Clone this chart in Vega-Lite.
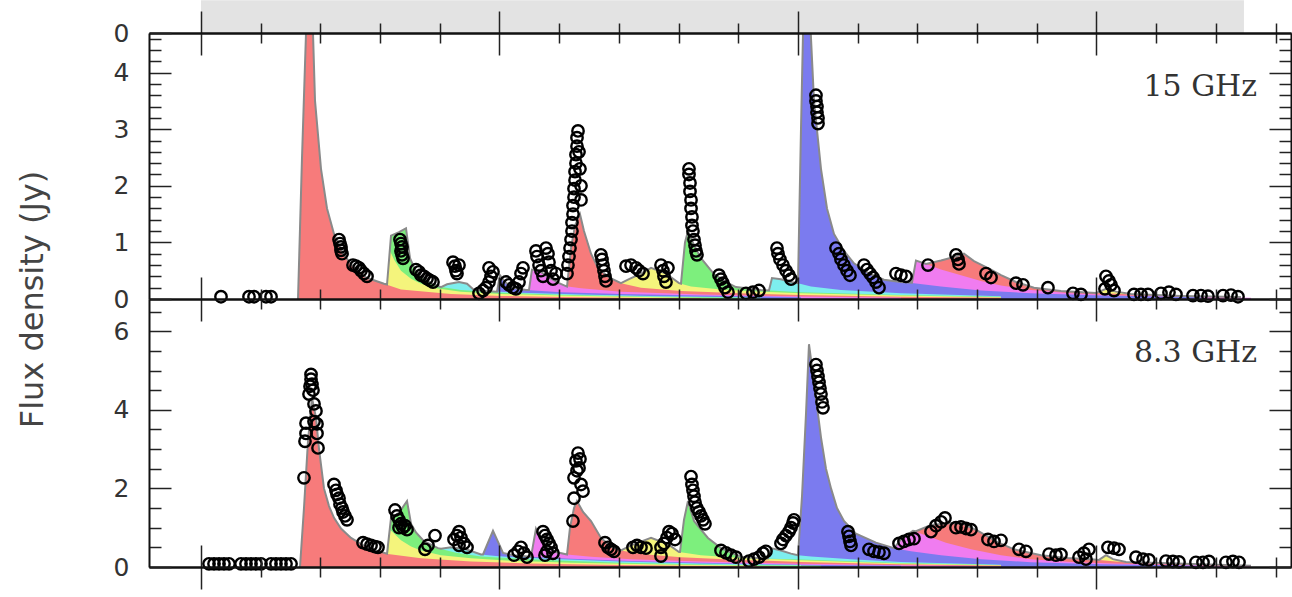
{
"$schema": "https://vega.github.io/schema/vega-lite/v6.json",
"padding": {"left": 15, "top": 0, "right": 0, "bottom": 0},
"bounds": "flush",
"spacing": 0,
"config": {"view": {"stroke": null}},
"resolve": {"scale": {"x": "independent", "y": "independent", "color": "independent"}},
"datasets": {
"grey": [{"x1": 1980.0, "x2": 1997.47, "y1": 4.7, "y2": 5.28}],
"lab_top": [{"t": 1997.69, "v": 3.59, "label": "15 GHz"}],
"lab_bot": [{"t": 1997.69, "v": 5.22, "label": "8.3 GHz"}],
"top_comp": [
{"c":"p14","t":1994.991,"v":0.105},{"c":"p14","t":1995.159,"v":0.18},{"c":"p14","t":1995.326,"v":0.13},{"c":"p14","t":1995.578,"v":0.09},{"c":"p14","t":1996.415,"v":0.055},{"c":"p14","t":1997.42,"v":0.035},
{"c":"p13","t":1992.144,"v":0.62},{"c":"p13","t":1992.395,"v":0.68},{"c":"p13","t":1992.646,"v":0.75},{"c":"p13","t":1992.78,"v":0.8},{"c":"p13","t":1992.948,"v":0.67},{"c":"p13","t":1993.233,"v":0.52},{"c":"p13","t":1993.4,"v":0.42},{"c":"p13","t":1993.651,"v":0.3},{"c":"p13","t":1993.953,"v":0.2},{"c":"p13","t":1994.405,"v":0.14},{"c":"p13","t":1995.075,"v":0.1},{"c":"p13","t":1995.913,"v":0.07},{"c":"p13","t":1996.75,"v":0.04},{"c":"p13","t":1997.42,"v":0.03},
{"c":"p12","t":1991.909,"v":0.29},{"c":"p12","t":1991.976,"v":0.68},{"c":"p12","t":1992.144,"v":0.62},{"c":"p12","t":1992.395,"v":0.52},{"c":"p12","t":1992.73,"v":0.42},{"c":"p12","t":1993.065,"v":0.32},{"c":"p12","t":1993.4,"v":0.24},{"c":"p12","t":1993.903,"v":0.16},{"c":"p12","t":1994.573,"v":0.1},{"c":"p12","t":1995.41,"v":0.06},{"c":"p12","t":1996.75,"v":0.035},{"c":"p12","t":1997.588,"v":0.02},
{"c":"p11","t":1990.0,"v":0.28},{"c":"p11","t":1990.05,"v":3.0},{"c":"p11","t":1990.1,"v":5.5},{"c":"p11","t":1990.151,"v":6.5},{"c":"p11","t":1990.218,"v":4.6},{"c":"p11","t":1990.268,"v":3.5},{"c":"p11","t":1990.385,"v":2.3},{"c":"p11","t":1990.486,"v":1.6},{"c":"p11","t":1990.603,"v":1.15},{"c":"p11","t":1990.77,"v":0.85},{"c":"p11","t":1990.938,"v":0.63},{"c":"p11","t":1991.189,"v":0.45},{"c":"p11","t":1991.44,"v":0.34},{"c":"p11","t":1991.725,"v":0.3},{"c":"p11","t":1991.943,"v":0.28},{"c":"p11","t":1992.395,"v":0.22},{"c":"p11","t":1993.065,"v":0.15},{"c":"p11","t":1993.903,"v":0.1},{"c":"p11","t":1995.075,"v":0.06},{"c":"p11","t":1996.75,"v":0.03},
{"c":"p10","t":1989.514,"v":0.15},{"c":"p10","t":1989.564,"v":0.37},{"c":"p10","t":1989.715,"v":0.35},{"c":"p10","t":1989.883,"v":0.3},{"c":"p10","t":1990.0,"v":0.28},{"c":"p10","t":1990.218,"v":0.22},{"c":"p10","t":1990.72,"v":0.16},{"c":"p10","t":1991.725,"v":0.1},{"c":"p10","t":1993.4,"v":0.05},
{"c":"p09","t":1988.04,"v":0.27},{"c":"p09","t":1988.107,"v":1.0},{"c":"p09","t":1988.157,"v":1.2},{"c":"p09","t":1988.258,"v":0.95},{"c":"p09","t":1988.375,"v":0.72},{"c":"p09","t":1988.593,"v":0.44},{"c":"p09","t":1988.794,"v":0.3},{"c":"p09","t":1988.961,"v":0.21},{"c":"p09","t":1989.38,"v":0.16},{"c":"p09","t":1990.05,"v":0.12},{"c":"p09","t":1991.725,"v":0.07},{"c":"p09","t":1993.4,"v":0.04},
{"c":"p08","t":1987.035,"v":0.28},{"c":"p08","t":1987.169,"v":0.35},{"c":"p08","t":1987.37,"v":0.45},{"c":"p08","t":1987.538,"v":0.55},{"c":"p08","t":1987.789,"v":0.45},{"c":"p08","t":1988.007,"v":0.28},{"c":"p08","t":1988.208,"v":0.22},{"c":"p08","t":1988.71,"v":0.17},{"c":"p08","t":1989.38,"v":0.13},{"c":"p08","t":1990.05,"v":0.1},{"c":"p08","t":1991.725,"v":0.06},{"c":"p08","t":1993.4,"v":0.03},
{"c":"p07","t":1986.131,"v":0.22},{"c":"p07","t":1986.198,"v":0.9},{"c":"p07","t":1986.265,"v":1.3},{"c":"p07","t":1986.348,"v":1.5},{"c":"p07","t":1986.415,"v":1.2},{"c":"p07","t":1986.533,"v":0.8},{"c":"p07","t":1986.65,"v":0.55},{"c":"p07","t":1986.834,"v":0.38},{"c":"p07","t":1987.035,"v":0.28},{"c":"p07","t":1987.37,"v":0.2},{"c":"p07","t":1988.04,"v":0.14},{"c":"p07","t":1989.045,"v":0.1},{"c":"p07","t":1990.05,"v":0.07},{"c":"p07","t":1991.725,"v":0.04},{"c":"p07","t":1993.4,"v":0.02},
{"c":"p06","t":1985.494,"v":0.16},{"c":"p06","t":1985.544,"v":0.52},{"c":"p06","t":1985.662,"v":0.5},{"c":"p06","t":1985.829,"v":0.38},{"c":"p06","t":1985.997,"v":0.28},{"c":"p06","t":1986.147,"v":0.22},{"c":"p06","t":1986.365,"v":0.19},{"c":"p06","t":1987.035,"v":0.13},{"c":"p06","t":1988.375,"v":0.08},{"c":"p06","t":1990.05,"v":0.045},{"c":"p06","t":1991.725,"v":0.02},
{"c":"p05","t":1984.958,"v":0.13},{"c":"p05","t":1985.008,"v":0.42},{"c":"p05","t":1985.092,"v":0.3},{"c":"p05","t":1985.226,"v":0.2},{"c":"p05","t":1985.444,"v":0.16},{"c":"p05","t":1986.03,"v":0.12},{"c":"p05","t":1987.035,"v":0.09},{"c":"p05","t":1988.375,"v":0.06},{"c":"p05","t":1990.05,"v":0.032},
{"c":"p04","t":1984.02,"v":0.21},{"c":"p04","t":1984.121,"v":0.26},{"c":"p04","t":1984.322,"v":0.3},{"c":"p04","t":1984.456,"v":0.27},{"c":"p04","t":1984.573,"v":0.16},{"c":"p04","t":1984.774,"v":0.14},{"c":"p04","t":1985.36,"v":0.11},{"c":"p04","t":1986.365,"v":0.08},{"c":"p04","t":1987.705,"v":0.05},{"c":"p04","t":1989.38,"v":0.025},
{"c":"p03","t":1983.116,"v":0.255},{"c":"p03","t":1983.183,"v":1.12},{"c":"p03","t":1983.317,"v":1.18},{"c":"p03","t":1983.434,"v":1.25},{"c":"p03","t":1983.501,"v":0.72},{"c":"p03","t":1983.585,"v":0.52},{"c":"p03","t":1983.685,"v":0.4},{"c":"p03","t":1983.853,"v":0.28},{"c":"p03","t":1984.02,"v":0.21},{"c":"p03","t":1984.355,"v":0.16},{"c":"p03","t":1985.025,"v":0.11},{"c":"p03","t":1986.03,"v":0.075},{"c":"p03","t":1987.37,"v":0.045},{"c":"p03","t":1989.045,"v":0.02},
{"c":"p02","t":1983.116,"v":0.255},{"c":"p02","t":1983.166,"v":0.85},{"c":"p02","t":1983.233,"v":0.7},{"c":"p02","t":1983.35,"v":0.5},{"c":"p02","t":1983.518,"v":0.36},{"c":"p02","t":1983.685,"v":0.27},{"c":"p02","t":1983.936,"v":0.19},{"c":"p02","t":1984.355,"v":0.13},{"c":"p02","t":1985.025,"v":0.09},{"c":"p02","t":1986.03,"v":0.06},{"c":"p02","t":1987.37,"v":0.035},{"c":"p02","t":1988.71,"v":0.015},
{"c":"p01","t":1981.625,"v":0},{"c":"p01","t":1981.692,"v":2.5},{"c":"p01","t":1981.759,"v":4.7},{"c":"p01","t":1981.809,"v":6.5},{"c":"p01","t":1981.876,"v":4.7},{"c":"p01","t":1981.91,"v":3.5},{"c":"p01","t":1982.01,"v":2.3},{"c":"p01","t":1982.111,"v":1.6},{"c":"p01","t":1982.228,"v":1.15},{"c":"p01","t":1982.379,"v":0.8},{"c":"p01","t":1982.563,"v":0.55},{"c":"p01","t":1982.764,"v":0.38},{"c":"p01","t":1983.065,"v":0.27},{"c":"p01","t":1983.35,"v":0.17},{"c":"p01","t":1984.188,"v":0.09},{"c":"p01","t":1985.025,"v":0.055},{"c":"p01","t":1986.03,"v":0.035},{"c":"p01","t":1987.035,"v":0.02},{"c":"p01","t":1988.375,"v":0.01}
],
"top_total": [
{"t":1981.625,"v":0},{"t":1981.692,"v":2.5},{"t":1981.759,"v":4.7},{"t":1981.809,"v":6.5},{"t":1981.876,"v":4.7},{"t":1981.91,"v":3.5},{"t":1982.01,"v":2.3},{"t":1982.111,"v":1.6},{"t":1982.228,"v":1.15},{"t":1982.379,"v":0.8},{"t":1982.563,"v":0.55},{"t":1982.764,"v":0.38},{"t":1983.065,"v":0.27},{"t":1983.116,"v":0.255},{"t":1983.183,"v":1.12},{"t":1983.317,"v":1.18},{"t":1983.434,"v":1.25},{"t":1983.501,"v":0.72},{"t":1983.585,"v":0.52},{"t":1983.685,"v":0.4},{"t":1983.853,"v":0.28},{"t":1984.02,"v":0.21},{"t":1984.121,"v":0.26},{"t":1984.322,"v":0.3},{"t":1984.456,"v":0.27},{"t":1984.573,"v":0.16},{"t":1984.774,"v":0.14},{"t":1984.958,"v":0.13},{"t":1985.008,"v":0.42},{"t":1985.092,"v":0.3},{"t":1985.226,"v":0.2},{"t":1985.444,"v":0.16},{"t":1985.494,"v":0.16},{"t":1985.544,"v":0.52},{"t":1985.662,"v":0.5},{"t":1985.829,"v":0.38},{"t":1985.997,"v":0.28},{"t":1986.131,"v":0.22},{"t":1986.198,"v":0.9},{"t":1986.265,"v":1.3},{"t":1986.348,"v":1.5},{"t":1986.415,"v":1.2},{"t":1986.533,"v":0.8},{"t":1986.65,"v":0.55},{"t":1986.834,"v":0.38},{"t":1987.035,"v":0.28},{"t":1987.169,"v":0.35},{"t":1987.37,"v":0.45},{"t":1987.538,"v":0.55},{"t":1987.789,"v":0.45},{"t":1988.007,"v":0.28},{"t":1988.04,"v":0.27},{"t":1988.107,"v":1.0},{"t":1988.157,"v":1.2},{"t":1988.258,"v":0.95},{"t":1988.375,"v":0.72},{"t":1988.593,"v":0.44},{"t":1988.794,"v":0.3},{"t":1988.961,"v":0.21},{"t":1989.38,"v":0.16},{"t":1989.514,"v":0.15},{"t":1989.564,"v":0.37},{"t":1989.715,"v":0.35},{"t":1989.883,"v":0.3},{"t":1990.0,"v":0.28},{"t":1990.05,"v":3.0},{"t":1990.1,"v":5.5},{"t":1990.151,"v":6.5},{"t":1990.218,"v":4.6},{"t":1990.268,"v":3.5},{"t":1990.385,"v":2.3},{"t":1990.486,"v":1.6},{"t":1990.603,"v":1.15},{"t":1990.77,"v":0.85},{"t":1990.938,"v":0.63},{"t":1991.189,"v":0.45},{"t":1991.44,"v":0.34},{"t":1991.725,"v":0.3},{"t":1991.909,"v":0.29},{"t":1991.976,"v":0.68},{"t":1992.144,"v":0.62},{"t":1992.395,"v":0.68},{"t":1992.646,"v":0.75},{"t":1992.78,"v":0.8},{"t":1992.948,"v":0.67},{"t":1993.233,"v":0.52},{"t":1993.4,"v":0.42},{"t":1993.651,"v":0.3},{"t":1993.953,"v":0.2},{"t":1994.405,"v":0.14},{"t":1994.991,"v":0.105},{"t":1995.159,"v":0.18},{"t":1995.326,"v":0.13},{"t":1995.578,"v":0.09},{"t":1996.415,"v":0.055},{"t":1997.42,"v":0.035}
],
"top_pts": [
{"t":1980.335,"v":0.04},{"t":1980.804,"v":0.04},{"t":1980.888,"v":0.04},{"t":1981.089,"v":0.04},{"t":1981.173,"v":0.04},
{"t":1982.312,"v":1.05},{"t":1982.328,"v":0.98},{"t":1982.345,"v":0.92},{"t":1982.345,"v":0.86},{"t":1982.362,"v":0.8},
{"t":1982.546,"v":0.6},{"t":1982.596,"v":0.58},{"t":1982.647,"v":0.55},{"t":1982.68,"v":0.5},{"t":1982.73,"v":0.45},{"t":1982.781,"v":0.4},
{"t":1983.333,"v":1.05},{"t":1983.35,"v":0.98},{"t":1983.367,"v":0.92},{"t":1983.35,"v":0.85},{"t":1983.367,"v":0.78},{"t":1983.384,"v":0.72},
{"t":1983.601,"v":0.52},{"t":1983.652,"v":0.48},{"t":1983.685,"v":0.42},{"t":1983.735,"v":0.4},{"t":1983.786,"v":0.36},{"t":1983.836,"v":0.33},{"t":1983.886,"v":0.3},
{"t":1984.221,"v":0.65},{"t":1984.255,"v":0.58},{"t":1984.271,"v":0.5},{"t":1984.288,"v":0.45},{"t":1984.322,"v":0.6},
{"t":1984.657,"v":0.1},{"t":1984.724,"v":0.15},{"t":1984.774,"v":0.2},{"t":1984.824,"v":0.3},{"t":1984.858,"v":0.4},{"t":1984.891,"v":0.48},{"t":1984.824,"v":0.55},
{"t":1985.109,"v":0.3},{"t":1985.159,"v":0.25},{"t":1985.226,"v":0.2},{"t":1985.276,"v":0.18},{"t":1985.327,"v":0.3},{"t":1985.36,"v":0.45},{"t":1985.394,"v":0.55},
{"t":1985.611,"v":0.85},{"t":1985.628,"v":0.75},{"t":1985.662,"v":0.6},{"t":1985.695,"v":0.5},{"t":1985.729,"v":0.4},{"t":1985.779,"v":0.9},{"t":1985.812,"v":0.8},{"t":1985.829,"v":0.65},{"t":1985.863,"v":0.5},{"t":1985.896,"v":0.35},{"t":1985.946,"v":0.45},
{"t":1986.131,"v":0.45},{"t":1986.147,"v":0.6},{"t":1986.164,"v":0.75},{"t":1986.181,"v":0.9},{"t":1986.198,"v":1.05},{"t":1986.214,"v":1.2},{"t":1986.214,"v":1.35},{"t":1986.231,"v":1.5},{"t":1986.231,"v":1.65},{"t":1986.248,"v":1.8},{"t":1986.248,"v":1.95},{"t":1986.265,"v":2.1},{"t":1986.265,"v":2.25},{"t":1986.281,"v":2.4},{"t":1986.281,"v":2.55},{"t":1986.298,"v":2.7},{"t":1986.298,"v":2.85},{"t":1986.315,"v":2.97},{"t":1986.332,"v":2.6},{"t":1986.348,"v":2.3},{"t":1986.365,"v":2.0},{"t":1986.365,"v":1.75},
{"t":1986.7,"v":0.78},{"t":1986.717,"v":0.7},{"t":1986.734,"v":0.6},{"t":1986.75,"v":0.5},{"t":1986.767,"v":0.4},{"t":1986.784,"v":0.32},
{"t":1987.119,"v":0.58},{"t":1987.203,"v":0.6},{"t":1987.286,"v":0.55},{"t":1987.337,"v":0.5},{"t":1987.404,"v":0.45},
{"t":1987.705,"v":0.6},{"t":1987.739,"v":0.5},{"t":1987.755,"v":0.4},{"t":1987.789,"v":0.3},{"t":1987.822,"v":0.55},
{"t":1988.174,"v":2.3},{"t":1988.174,"v":2.2},{"t":1988.191,"v":2.05},{"t":1988.191,"v":1.9},{"t":1988.208,"v":1.75},{"t":1988.208,"v":1.6},{"t":1988.224,"v":1.45},{"t":1988.224,"v":1.3},{"t":1988.241,"v":1.2},{"t":1988.258,"v":1.05},{"t":1988.275,"v":0.95},{"t":1988.291,"v":0.85},{"t":1988.308,"v":0.78},
{"t":1988.677,"v":0.42},{"t":1988.71,"v":0.35},{"t":1988.744,"v":0.28},{"t":1988.777,"v":0.2},{"t":1988.827,"v":0.12},
{"t":1989.129,"v":0.1},{"t":1989.246,"v":0.12},{"t":1989.347,"v":0.15},
{"t":1989.648,"v":0.9},{"t":1989.665,"v":0.8},{"t":1989.698,"v":0.7},{"t":1989.749,"v":0.6},{"t":1989.799,"v":0.5},{"t":1989.849,"v":0.42},{"t":1989.883,"v":0.35},
{"t":1990.301,"v":3.6},{"t":1990.301,"v":3.5},{"t":1990.318,"v":3.4},{"t":1990.318,"v":3.3},{"t":1990.335,"v":3.2},{"t":1990.335,"v":3.1},
{"t":1990.636,"v":0.9},{"t":1990.687,"v":0.8},{"t":1990.72,"v":0.7},{"t":1990.77,"v":0.6},{"t":1990.821,"v":0.5},{"t":1990.871,"v":0.42},
{"t":1991.105,"v":0.6},{"t":1991.156,"v":0.52},{"t":1991.206,"v":0.45},{"t":1991.256,"v":0.38},{"t":1991.306,"v":0.3},{"t":1991.357,"v":0.2},
{"t":1991.641,"v":0.45},{"t":1991.725,"v":0.42},{"t":1991.809,"v":0.4},
{"t":1992.177,"v":0.6},
{"t":1992.646,"v":0.78},{"t":1992.68,"v":0.7},{"t":1992.697,"v":0.62},
{"t":1993.149,"v":0.45},{"t":1993.233,"v":0.38},
{"t":1993.651,"v":0.28},{"t":1993.769,"v":0.25},
{"t":1994.187,"v":0.2},
{"t":1994.606,"v":0.1},{"t":1994.74,"v":0.08},
{"t":1995.159,"v":0.4},{"t":1995.209,"v":0.32},{"t":1995.243,"v":0.25},{"t":1995.142,"v":0.18},{"t":1995.293,"v":0.15},
{"t":1995.628,"v":0.08},{"t":1995.745,"v":0.08},{"t":1995.862,"v":0.08},
{"t":1996.08,"v":0.1},{"t":1996.214,"v":0.12},{"t":1996.331,"v":0.08},
{"t":1996.616,"v":0.06},{"t":1996.75,"v":0.06},{"t":1996.867,"v":0.05},
{"t":1997.119,"v":0.06},{"t":1997.253,"v":0.07},{"t":1997.37,"v":0.04}
],
"bot_comp": [
{"c":"p14","t":1995.042,"v":0.18},{"c":"p14","t":1995.159,"v":0.3},{"c":"p14","t":1995.276,"v":0.2},{"c":"p14","t":1995.494,"v":0.13},{"c":"p14","t":1996.08,"v":0.1},{"c":"p14","t":1997.588,"v":0.035},
{"c":"p13","t":1991.976,"v":0.91},{"c":"p13","t":1992.228,"v":1.07},{"c":"p13","t":1992.563,"v":1.12},{"c":"p13","t":1992.764,"v":1.1},{"c":"p13","t":1993.015,"v":0.92},{"c":"p13","t":1993.316,"v":0.65},{"c":"p13","t":1993.618,"v":0.45},{"c":"p13","t":1994.07,"v":0.3},{"c":"p13","t":1994.522,"v":0.23},{"c":"p13","t":1994.958,"v":0.19},{"c":"p13","t":1995.41,"v":0.13},{"c":"p13","t":1996.08,"v":0.09},{"c":"p13","t":1996.75,"v":0.06},{"c":"p13","t":1997.588,"v":0.03},
{"c":"p12","t":1991.608,"v":0.48},{"c":"p12","t":1991.725,"v":0.7},{"c":"p12","t":1991.926,"v":0.92},{"c":"p12","t":1992.144,"v":0.8},{"c":"p12","t":1992.479,"v":0.62},{"c":"p12","t":1992.898,"v":0.45},{"c":"p12","t":1993.4,"v":0.3},{"c":"p12","t":1993.903,"v":0.2},{"c":"p12","t":1994.573,"v":0.13},{"c":"p12","t":1995.41,"v":0.08},{"c":"p12","t":1996.75,"v":0.04},{"c":"p12","t":1997.588,"v":0.02},
{"c":"p11","t":1990.0,"v":0.3},{"c":"p11","t":1990.067,"v":1.8},{"c":"p11","t":1990.134,"v":3.9},{"c":"p11","t":1990.184,"v":5.67},{"c":"p11","t":1990.251,"v":4.9},{"c":"p11","t":1990.301,"v":4.3},{"c":"p11","t":1990.385,"v":3.3},{"c":"p11","t":1990.469,"v":2.5},{"c":"p11","t":1990.553,"v":2.0},{"c":"p11","t":1990.653,"v":1.5},{"c":"p11","t":1990.77,"v":1.17},{"c":"p11","t":1990.971,"v":0.85},{"c":"p11","t":1991.306,"v":0.62},{"c":"p11","t":1991.608,"v":0.48},{"c":"p11","t":1991.893,"v":0.4},{"c":"p11","t":1992.395,"v":0.3},{"c":"p11","t":1993.065,"v":0.2},{"c":"p11","t":1993.903,"v":0.12},{"c":"p11","t":1995.075,"v":0.07},{"c":"p11","t":1996.75,"v":0.035},
{"c":"p10","t":1989.497,"v":0.216},{"c":"p10","t":1989.548,"v":0.48},{"c":"p10","t":1989.715,"v":0.42},{"c":"p10","t":1989.883,"v":0.34},{"c":"p10","t":1990.0,"v":0.3},{"c":"p10","t":1990.218,"v":0.27},{"c":"p10","t":1990.888,"v":0.2},{"c":"p10","t":1991.725,"v":0.13},{"c":"p10","t":1993.4,"v":0.06},
{"c":"p09","t":1988.023,"v":0.38},{"c":"p09","t":1988.09,"v":1.2},{"c":"p09","t":1988.157,"v":1.68},{"c":"p09","t":1988.258,"v":1.17},{"c":"p09","t":1988.375,"v":0.95},{"c":"p09","t":1988.492,"v":0.74},{"c":"p09","t":1988.71,"v":0.48},{"c":"p09","t":1989.045,"v":0.26},{"c":"p09","t":1989.38,"v":0.22},{"c":"p09","t":1990.05,"v":0.19},{"c":"p09","t":1991.725,"v":0.1},{"c":"p09","t":1993.4,"v":0.05},
{"c":"p08","t":1987.035,"v":0.42},{"c":"p08","t":1987.203,"v":0.55},{"c":"p08","t":1987.538,"v":0.74},{"c":"p08","t":1987.822,"v":0.58},{"c":"p08","t":1988.007,"v":0.38},{"c":"p08","t":1988.375,"v":0.3},{"c":"p08","t":1989.045,"v":0.23},{"c":"p08","t":1990.05,"v":0.17},{"c":"p08","t":1991.725,"v":0.09},{"c":"p08","t":1993.4,"v":0.045},
{"c":"p07","t":1986.131,"v":0.32},{"c":"p07","t":1986.181,"v":1.0},{"c":"p07","t":1986.248,"v":1.5},{"c":"p07","t":1986.298,"v":1.68},{"c":"p07","t":1986.399,"v":1.4},{"c":"p07","t":1986.533,"v":1.17},{"c":"p07","t":1986.7,"v":0.74},{"c":"p07","t":1986.868,"v":0.52},{"c":"p07","t":1987.035,"v":0.42},{"c":"p07","t":1987.37,"v":0.33},{"c":"p07","t":1988.04,"v":0.25},{"c":"p07","t":1989.045,"v":0.18},{"c":"p07","t":1990.05,"v":0.13},{"c":"p07","t":1991.725,"v":0.07},{"c":"p07","t":1993.4,"v":0.035},
{"c":"p06","t":1985.528,"v":0.26},{"c":"p06","t":1985.611,"v":0.97},{"c":"p06","t":1985.695,"v":0.7},{"c":"p06","t":1985.796,"v":0.5},{"c":"p06","t":1985.946,"v":0.38},{"c":"p06","t":1986.131,"v":0.32},{"c":"p06","t":1986.533,"v":0.26},{"c":"p06","t":1987.203,"v":0.2},{"c":"p06","t":1988.375,"v":0.14},{"c":"p06","t":1990.05,"v":0.08},{"c":"p06","t":1991.725,"v":0.045},{"c":"p06","t":1993.4,"v":0.02},
{"c":"p05","t":1984.724,"v":0.32},{"c":"p05","t":1984.891,"v":0.92},{"c":"p05","t":1985.059,"v":0.36},{"c":"p05","t":1985.226,"v":0.3},{"c":"p05","t":1985.528,"v":0.26},{"c":"p05","t":1986.198,"v":0.21},{"c":"p05","t":1987.203,"v":0.155},{"c":"p05","t":1988.375,"v":0.105},{"c":"p05","t":1990.05,"v":0.06},{"c":"p05","t":1991.725,"v":0.03},
{"c":"p04","t":1984.02,"v":0.465},{"c":"p04","t":1984.188,"v":0.5},{"c":"p04","t":1984.439,"v":0.45},{"c":"p04","t":1984.69,"v":0.32},{"c":"p04","t":1984.941,"v":0.28},{"c":"p04","t":1985.36,"v":0.24},{"c":"p04","t":1986.03,"v":0.2},{"c":"p04","t":1987.035,"v":0.14},{"c":"p04","t":1988.375,"v":0.09},{"c":"p04","t":1990.05,"v":0.05},
{"c":"p03","t":1983.116,"v":0.34},{"c":"p03","t":1983.183,"v":1.25},{"c":"p03","t":1983.317,"v":1.38},{"c":"p03","t":1983.451,"v":1.68},{"c":"p03","t":1983.518,"v":1.1},{"c":"p03","t":1983.601,"v":0.88},{"c":"p03","t":1983.735,"v":0.66},{"c":"p03","t":1983.97,"v":0.48},{"c":"p03","t":1984.271,"v":0.36},{"c":"p03","t":1984.69,"v":0.27},{"c":"p03","t":1985.193,"v":0.22},{"c":"p03","t":1985.863,"v":0.17},{"c":"p03","t":1987.035,"v":0.11},{"c":"p03","t":1988.71,"v":0.06},{"c":"p03","t":1990.385,"v":0.03},
{"c":"p02","t":1983.132,"v":0.335},{"c":"p02","t":1983.166,"v":0.95},{"c":"p02","t":1983.233,"v":0.85},{"c":"p02","t":1983.35,"v":0.68},{"c":"p02","t":1983.518,"v":0.52},{"c":"p02","t":1983.685,"v":0.42},{"c":"p02","t":1984.02,"v":0.3},{"c":"p02","t":1984.523,"v":0.22},{"c":"p02","t":1985.193,"v":0.16},{"c":"p02","t":1986.198,"v":0.11},{"c":"p02","t":1987.538,"v":0.07},{"c":"p02","t":1989.213,"v":0.035},
{"c":"p01","t":1981.658,"v":0},{"c":"p01","t":1981.725,"v":1.5},{"c":"p01","t":1981.792,"v":3.2},{"c":"p01","t":1981.859,"v":4.3},{"c":"p01","t":1981.926,"v":3.8},{"c":"p01","t":1981.977,"v":3.0},{"c":"p01","t":1982.06,"v":2.0},{"c":"p01","t":1982.144,"v":1.55},{"c":"p01","t":1982.228,"v":1.25},{"c":"p01","t":1982.345,"v":0.98},{"c":"p01","t":1982.513,"v":0.74},{"c":"p01","t":1982.797,"v":0.48},{"c":"p01","t":1983.132,"v":0.33},{"c":"p01","t":1983.685,"v":0.22},{"c":"p01","t":1984.523,"v":0.14},{"c":"p01","t":1985.528,"v":0.09},{"c":"p01","t":1986.7,"v":0.055},{"c":"p01","t":1988.04,"v":0.03},{"c":"p01","t":1989.715,"v":0.015}
],
"bot_total": [
{"t":1981.658,"v":0},{"t":1981.725,"v":1.5},{"t":1981.792,"v":3.2},{"t":1981.859,"v":4.3},{"t":1981.926,"v":3.8},{"t":1981.977,"v":3.0},{"t":1982.06,"v":2.0},{"t":1982.144,"v":1.55},{"t":1982.228,"v":1.25},{"t":1982.345,"v":0.98},{"t":1982.513,"v":0.74},{"t":1982.797,"v":0.48},{"t":1983.116,"v":0.34},{"t":1983.183,"v":1.25},{"t":1983.317,"v":1.38},{"t":1983.451,"v":1.68},{"t":1983.518,"v":1.1},{"t":1983.601,"v":0.88},{"t":1983.735,"v":0.66},{"t":1983.97,"v":0.48},{"t":1984.02,"v":0.465},{"t":1984.188,"v":0.5},{"t":1984.439,"v":0.45},{"t":1984.69,"v":0.32},{"t":1984.724,"v":0.32},{"t":1984.891,"v":0.92},{"t":1985.059,"v":0.36},{"t":1985.226,"v":0.3},{"t":1985.528,"v":0.26},{"t":1985.611,"v":0.97},{"t":1985.695,"v":0.7},{"t":1985.796,"v":0.5},{"t":1985.946,"v":0.38},{"t":1986.131,"v":0.32},{"t":1986.181,"v":1.0},{"t":1986.248,"v":1.5},{"t":1986.298,"v":1.68},{"t":1986.399,"v":1.4},{"t":1986.533,"v":1.17},{"t":1986.7,"v":0.74},{"t":1986.868,"v":0.52},{"t":1987.035,"v":0.42},{"t":1987.203,"v":0.55},{"t":1987.538,"v":0.74},{"t":1987.822,"v":0.58},{"t":1988.007,"v":0.38},{"t":1988.023,"v":0.38},{"t":1988.09,"v":1.2},{"t":1988.157,"v":1.68},{"t":1988.258,"v":1.17},{"t":1988.375,"v":0.95},{"t":1988.492,"v":0.74},{"t":1988.71,"v":0.48},{"t":1989.045,"v":0.26},{"t":1989.38,"v":0.22},{"t":1989.497,"v":0.216},{"t":1989.548,"v":0.48},{"t":1989.715,"v":0.42},{"t":1989.883,"v":0.34},{"t":1990.0,"v":0.3},{"t":1990.067,"v":1.8},{"t":1990.134,"v":3.9},{"t":1990.184,"v":5.67},{"t":1990.251,"v":4.9},{"t":1990.301,"v":4.3},{"t":1990.385,"v":3.3},{"t":1990.469,"v":2.5},{"t":1990.553,"v":2.0},{"t":1990.653,"v":1.5},{"t":1990.77,"v":1.17},{"t":1990.971,"v":0.85},{"t":1991.306,"v":0.62},{"t":1991.608,"v":0.48},{"t":1991.725,"v":0.7},{"t":1991.926,"v":0.92},{"t":1991.976,"v":0.91},{"t":1992.228,"v":1.07},{"t":1992.563,"v":1.12},{"t":1992.764,"v":1.1},{"t":1993.015,"v":0.92},{"t":1993.316,"v":0.65},{"t":1993.618,"v":0.45},{"t":1994.07,"v":0.3},{"t":1994.522,"v":0.23},{"t":1994.958,"v":0.19},{"t":1995.042,"v":0.18},{"t":1995.159,"v":0.3},{"t":1995.276,"v":0.2},{"t":1995.494,"v":0.13},{"t":1996.08,"v":0.1},{"t":1996.75,"v":0.07},{"t":1997.588,"v":0.035}
],
"bot_pts": [
{"t":1980.134,"v":0.08},{"t":1980.218,"v":0.08},{"t":1980.302,"v":0.08},{"t":1980.385,"v":0.08},{"t":1980.469,"v":0.08},{"t":1980.67,"v":0.08},{"t":1980.754,"v":0.08},{"t":1980.838,"v":0.08},{"t":1980.921,"v":0.08},{"t":1981.005,"v":0.08},{"t":1981.173,"v":0.08},{"t":1981.256,"v":0.08},{"t":1981.34,"v":0.08},{"t":1981.424,"v":0.08},{"t":1981.508,"v":0.08},
{"t":1981.725,"v":2.27},{"t":1981.742,"v":3.2},{"t":1981.759,"v":3.4},{"t":1981.759,"v":3.66},{"t":1981.809,"v":4.4},{"t":1981.826,"v":4.6},{"t":1981.843,"v":4.9},{"t":1981.843,"v":4.78},{"t":1981.876,"v":4.5},{"t":1981.893,"v":4.15},{"t":1981.926,"v":3.97},{"t":1981.943,"v":3.64},{"t":1981.943,"v":3.4},{"t":1981.96,"v":3.03},{"t":1981.893,"v":3.7},{"t":1981.859,"v":4.65},
{"t":1982.228,"v":2.1},{"t":1982.261,"v":1.95},{"t":1982.278,"v":1.85},{"t":1982.312,"v":1.75},{"t":1982.328,"v":1.6},{"t":1982.362,"v":1.5},{"t":1982.379,"v":1.4},{"t":1982.412,"v":1.3},{"t":1982.446,"v":1.2},
{"t":1982.714,"v":0.62},{"t":1982.781,"v":0.58},{"t":1982.848,"v":0.55},{"t":1982.915,"v":0.52},{"t":1982.965,"v":0.5},
{"t":1983.25,"v":1.45},{"t":1983.283,"v":1.3},{"t":1983.317,"v":1.2},{"t":1983.35,"v":1.1},{"t":1983.384,"v":1.0},{"t":1983.417,"v":1.05},{"t":1983.451,"v":0.95},{"t":1983.317,"v":1.0},
{"t":1983.752,"v":0.45},{"t":1983.802,"v":0.55},{"t":1983.92,"v":0.8},
{"t":1984.238,"v":0.7},{"t":1984.288,"v":0.8},{"t":1984.322,"v":0.9},{"t":1984.355,"v":0.75},{"t":1984.405,"v":0.6},{"t":1984.456,"v":0.5},{"t":1984.322,"v":0.55},
{"t":1985.243,"v":0.3},{"t":1985.31,"v":0.4},{"t":1985.36,"v":0.5},{"t":1985.41,"v":0.35},{"t":1985.461,"v":0.25},
{"t":1985.729,"v":0.9},{"t":1985.762,"v":0.8},{"t":1985.796,"v":0.7},{"t":1985.829,"v":0.6},{"t":1985.863,"v":0.5},{"t":1985.796,"v":0.4},{"t":1985.896,"v":0.35},{"t":1985.762,"v":0.3},
{"t":1986.231,"v":1.17},{"t":1986.248,"v":1.75},{"t":1986.248,"v":2.27},{"t":1986.281,"v":2.7},{"t":1986.315,"v":2.9},{"t":1986.332,"v":2.52},{"t":1986.365,"v":2.1},{"t":1986.399,"v":1.93},{"t":1986.298,"v":2.45},{"t":1986.348,"v":2.75},
{"t":1986.767,"v":0.62},{"t":1986.817,"v":0.5},{"t":1986.868,"v":0.45},{"t":1986.918,"v":0.4},
{"t":1987.236,"v":0.5},{"t":1987.303,"v":0.55},{"t":1987.37,"v":0.5},{"t":1987.454,"v":0.48},
{"t":1987.705,"v":0.28},{"t":1987.755,"v":0.6},{"t":1987.806,"v":0.75},{"t":1987.839,"v":0.9},{"t":1987.889,"v":0.85},{"t":1987.94,"v":0.7},{"t":1987.705,"v":0.5},
{"t":1988.208,"v":2.3},{"t":1988.224,"v":2.1},{"t":1988.241,"v":1.95},{"t":1988.258,"v":1.8},{"t":1988.275,"v":1.65},{"t":1988.308,"v":1.5},{"t":1988.342,"v":1.4},{"t":1988.375,"v":1.3},{"t":1988.409,"v":1.2},{"t":1988.442,"v":1.1},
{"t":1988.71,"v":0.42},{"t":1988.794,"v":0.36},{"t":1988.878,"v":0.3},{"t":1988.961,"v":0.25},
{"t":1989.179,"v":0.15},{"t":1989.263,"v":0.2},{"t":1989.347,"v":0.25},{"t":1989.414,"v":0.35},{"t":1989.464,"v":0.4},
{"t":1989.715,"v":0.6},{"t":1989.749,"v":0.7},{"t":1989.799,"v":0.8},{"t":1989.849,"v":0.9},{"t":1989.883,"v":1.0},{"t":1989.916,"v":1.12},{"t":1989.933,"v":1.2},
{"t":1990.301,"v":5.15},{"t":1990.318,"v":5.0},{"t":1990.335,"v":4.85},{"t":1990.352,"v":4.7},{"t":1990.368,"v":4.55},{"t":1990.385,"v":4.4},{"t":1990.402,"v":4.2},{"t":1990.419,"v":4.05},
{"t":1990.837,"v":0.9},{"t":1990.854,"v":0.78},{"t":1990.871,"v":0.65},{"t":1990.888,"v":0.55},
{"t":1991.189,"v":0.45},{"t":1991.273,"v":0.4},{"t":1991.357,"v":0.38},{"t":1991.44,"v":0.35},
{"t":1991.692,"v":0.6},{"t":1991.775,"v":0.65},{"t":1991.859,"v":0.7},{"t":1991.943,"v":0.72},
{"t":1992.228,"v":0.9},{"t":1992.311,"v":1.05},{"t":1992.395,"v":1.15},{"t":1992.462,"v":1.25},
{"t":1992.646,"v":1.0},{"t":1992.73,"v":1.02},{"t":1992.814,"v":0.98},{"t":1992.898,"v":0.95},
{"t":1993.182,"v":0.7},{"t":1993.283,"v":0.65},{"t":1993.4,"v":0.68},
{"t":1993.702,"v":0.45},{"t":1993.819,"v":0.4},
{"t":1994.204,"v":0.33},{"t":1994.321,"v":0.3},{"t":1994.405,"v":0.32},
{"t":1994.707,"v":0.25},{"t":1994.79,"v":0.35},{"t":1994.874,"v":0.45},{"t":1994.824,"v":0.2},
{"t":1995.192,"v":0.5},{"t":1995.293,"v":0.48},{"t":1995.377,"v":0.45},
{"t":1995.661,"v":0.25},{"t":1995.779,"v":0.2},{"t":1995.879,"v":0.18},
{"t":1996.164,"v":0.15},{"t":1996.281,"v":0.14},{"t":1996.382,"v":0.13},
{"t":1996.666,"v":0.12},{"t":1996.784,"v":0.12},{"t":1996.884,"v":0.14},
{"t":1997.169,"v":0.12},{"t":1997.286,"v":0.14},{"t":1997.387,"v":0.12}
]
},
"vconcat": [
{
"width": 1142, "height": 266,
"resolve": {"axis": {"x": "independent", "y": "independent"}},
"layer": [
{"data": {"name": "grey"}, "mark": {"type": "rect", "color": "#e3e3e3"},
 "encoding": {
  "x": {"field": "x1", "type": "quantitative", "scale": {"domain": [1979.129, 1998.258], "nice": false, "zero": false},
        "axis": {"orient": "top", "values": [1980,1981,1982,1983,1984,1985,1986,1987,1988,1989,1990,1991,1992,1993,1994,1995,1996,1997,1998], "labels": false, "title": null, "grid": false, "tickSize": {"condition": {"test": "datum.value % 5 === 0", "value": 22}, "value": 10}, "tickColor": "#222", "tickWidth": 1.5, "domainColor": "#111", "domainWidth": 2, "zindex": 1}},
  "x2": {"field": "x2"},
  "y": {"field": "y1", "type": "quantitative", "scale": {"domain": [0, 4.7], "nice": false, "zero": false},
        "axis": {"orient": "left", "values": [0,0.2,0.4,0.6,0.8,1,1.2,1.4,1.6,1.8,2,2.2,2.4,2.6,2.8,3,3.2,3.4,3.6,3.8,4,4.2,4.4,4.6,4.7],
                 "title": "Flux density (Jy)", "titleX": -107, "titleY": 266, "titleAngle": -90, "titleAlign": "center", "titleBaseline": "alphabetic", "titleFont": "DejaVu Sans", "titleFontSize": 32, "titleFontWeight": "normal", "titleColor": "#444",
                 "labelExpr": "datum.value > 4.65 ? '0' : (abs(datum.value - round(datum.value)) < 0.01 ? '' + round(datum.value) : '')",
                 "labelFont": "DejaVu Sans", "labelFontSize": 25, "labelColor": "#333", "labelPadding": 42, "labelOverlap": false, "labelAlign": "right", "labelBaseline": "middle",
                 "tickSize": {"condition": {"test": "abs(datum.value - round(datum.value)) < 0.01 || datum.value > 4.65", "value": -22}, "value": -12},
                 "tickColor": "#222", "tickWidth": 1.5, "domainColor": "#111", "domainWidth": 2, "grid": false, "zindex": 1}},
  "y2": {"field": "y2"}
 }},
{"data": {"name": "top_comp"}, "mark": {"type": "area", "clip": true, "opacity": 1},
 "encoding": {
  "x": {"field": "t", "type": "quantitative", "scale": {"domain": [1979.129, 1998.258], "nice": false, "zero": false},
        "axis": {"orient": "top", "values": [1980,1981,1982,1983,1984,1985,1986,1987,1988,1989,1990,1991,1992,1993,1994,1995,1996,1997,1998], "labels": false, "title": null, "grid": false, "tickSize": {"condition": {"test": "datum.value % 5 === 0", "value": -22}, "value": -10}, "tickColor": "#222", "tickWidth": 1.5, "domainColor": "#111", "domainWidth": 2, "zindex": 1}},
  "y": {"field": "v", "type": "quantitative", "stack": null, "scale": {"domain": [0, 4.7], "nice": false, "zero": false},
        "axis": {"orient": "right", "values": [0,0.2,0.4,0.6,0.8,1,1.2,1.4,1.6,1.8,2,2.2,2.4,2.6,2.8,3,3.2,3.4,3.6,3.8,4,4.2,4.4,4.6], "labels": false, "title": null, "grid": false,
                 "tickSize": {"condition": {"test": "abs(datum.value - round(datum.value)) < 0.01", "value": -22}, "value": -12},
                 "tickColor": "#222", "tickWidth": 1.5, "domainColor": "#111", "domainWidth": 2, "zindex": 1}},
  "color": {"field": "c", "type": "nominal", "legend": null,
            "scale": {"domain": ["p01","p02","p03","p04","p05","p06","p07","p08","p09","p10","p11","p12","p13","p14"],
                      "range": ["#f77b7b","#f4f47c","#7def7d","#7deeee","#7b7bef","#f07cf0","#f77b7b","#f4f47c","#7def7d","#7deeee","#7b7bef","#f07cf0","#f77b7b","#f4f47c"]}}
 }},
{"data": {"name": "top_total"}, "mark": {"type": "line", "clip": true, "color": "#8a8a8a", "strokeWidth": 2},
 "encoding": {
  "x": {"field": "t", "type": "quantitative", "scale": {"domain": [1979.129, 1998.258], "nice": false, "zero": false},
        "axis": {"orient": "bottom", "values": [1980,1981,1982,1983,1984,1985,1986,1987,1988,1989,1990,1991,1992,1993,1994,1995,1996,1997,1998], "labels": false, "title": null, "grid": false, "tickSize": {"condition": {"test": "datum.value % 5 === 0", "value": 22}, "value": 10}, "tickColor": "#222", "tickWidth": 1.5, "domainColor": "#111", "domainWidth": 2, "zindex": 1}},
  "y": {"field": "v", "type": "quantitative", "scale": {"domain": [0, 4.7], "nice": false, "zero": false}, "axis": null}
 }},
{"data": {"name": "top_pts"}, "mark": {"type": "point", "shape": "circle", "filled": false, "stroke": "#000", "strokeWidth": 2.4, "size": 130, "opacity": 1},
 "encoding": {
  "x": {"field": "t", "type": "quantitative", "scale": {"domain": [1979.129, 1998.258], "nice": false, "zero": false},
        "axis": {"orient": "bottom", "values": [1980,1981,1982,1983,1984,1985,1986,1987,1988,1989,1990,1991,1992,1993,1994,1995,1996,1997,1998], "labels": false, "title": null, "grid": false, "tickSize": {"condition": {"test": "datum.value % 5 === 0", "value": -22}, "value": -10}, "tickColor": "#222", "tickWidth": 1.5, "domainColor": "#111", "domainWidth": 2, "zindex": 1}},
  "y": {"field": "v", "type": "quantitative", "scale": {"domain": [0, 4.7], "nice": false, "zero": false}, "axis": null}
 }},
{"data": {"name": "lab_top"}, "mark": {"type": "text", "align": "right", "baseline": "alphabetic", "font": "DejaVu Serif", "fontSize": 30, "color": "#333"},
 "encoding": {
  "x": {"field": "t", "type": "quantitative", "scale": {"domain": [1979.129, 1998.258], "nice": false, "zero": false}, "axis": null},
  "y": {"field": "v", "type": "quantitative", "scale": {"domain": [0, 4.7], "nice": false, "zero": false}, "axis": null},
  "text": {"field": "label"}
 }}
]
},
{
"width": 1142, "height": 268,
"resolve": {"axis": {"x": "independent", "y": "independent"}},
"layer": [
{"data": {"name": "bot_comp"}, "mark": {"type": "area", "clip": true, "opacity": 1},
 "encoding": {
  "x": {"field": "t", "type": "quantitative", "scale": {"domain": [1979.129, 1998.258], "nice": false, "zero": false},
        "axis": {"orient": "bottom", "values": [1980,1981,1982,1983,1984,1985,1986,1987,1988,1989,1990,1991,1992,1993,1994,1995,1996,1997,1998], "labels": false, "title": null, "grid": false, "tickSize": {"condition": {"test": "datum.value % 5 === 0", "value": 22}, "value": 10}, "tickColor": "#222", "tickWidth": 1.5, "domainColor": "#111", "domainWidth": 2, "zindex": 1}},
  "y": {"field": "v", "type": "quantitative", "stack": null, "scale": {"domain": [0, 6.82], "nice": false, "zero": false},
        "axis": {"orient": "left", "values": [0,0.5,1,1.5,2,2.5,3,3.5,4,4.5,5,5.5,6,6.5], "title": null,
                 "labelExpr": "abs(datum.value/2 - round(datum.value/2)) < 0.01 ? '' + round(datum.value) : ''",
                 "labelFont": "DejaVu Sans", "labelFontSize": 25, "labelColor": "#333", "labelPadding": 42, "labelOverlap": false, "labelAlign": "right", "labelBaseline": "middle",
                 "tickSize": {"condition": {"test": "abs(datum.value/2 - round(datum.value/2)) < 0.01", "value": -22}, "value": -12},
                 "tickColor": "#222", "tickWidth": 1.5, "domainColor": "#111", "domainWidth": 2, "grid": false, "zindex": 1}},
  "color": {"field": "c", "type": "nominal", "legend": null,
            "scale": {"domain": ["p01","p02","p03","p04","p05","p06","p07","p08","p09","p10","p11","p12","p13","p14"],
                      "range": ["#f77b7b","#f4f47c","#7def7d","#7deeee","#7b7bef","#f07cf0","#f77b7b","#f4f47c","#7def7d","#7deeee","#7b7bef","#f07cf0","#f77b7b","#f4f47c"]}}
 }},
{"data": {"name": "bot_total"}, "mark": {"type": "line", "clip": true, "color": "#8a8a8a", "strokeWidth": 2},
 "encoding": {
  "x": {"field": "t", "type": "quantitative", "scale": {"domain": [1979.129, 1998.258], "nice": false, "zero": false},
        "axis": {"orient": "bottom", "values": [1980,1981,1982,1983,1984,1985,1986,1987,1988,1989,1990,1991,1992,1993,1994,1995,1996,1997,1998], "labels": false, "title": null, "grid": false, "tickSize": {"condition": {"test": "datum.value % 5 === 0", "value": -22}, "value": -10}, "tickColor": "#222", "tickWidth": 1.5, "domainColor": "#111", "domainWidth": 2, "zindex": 1}},
  "y": {"field": "v", "type": "quantitative", "scale": {"domain": [0, 6.82], "nice": false, "zero": false},
        "axis": {"orient": "right", "values": [0,0.5,1,1.5,2,2.5,3,3.5,4,4.5,5,5.5,6,6.5], "labels": false, "title": null, "grid": false,
                 "tickSize": {"condition": {"test": "abs(datum.value/2 - round(datum.value/2)) < 0.01", "value": -22}, "value": -12},
                 "tickColor": "#222", "tickWidth": 1.5, "domainColor": "#111", "domainWidth": 2, "zindex": 1}}
 }},
{"data": {"name": "bot_pts"}, "mark": {"type": "point", "shape": "circle", "filled": false, "stroke": "#000", "strokeWidth": 2.4, "size": 130, "opacity": 1},
 "encoding": {
  "x": {"field": "t", "type": "quantitative", "scale": {"domain": [1979.129, 1998.258], "nice": false, "zero": false}, "axis": null},
  "y": {"field": "v", "type": "quantitative", "scale": {"domain": [0, 6.82], "nice": false, "zero": false}, "axis": null}
 }},
{"data": {"name": "lab_bot"}, "mark": {"type": "text", "align": "right", "baseline": "alphabetic", "font": "DejaVu Serif", "fontSize": 30, "color": "#333"},
 "encoding": {
  "x": {"field": "t", "type": "quantitative", "scale": {"domain": [1979.129, 1998.258], "nice": false, "zero": false}, "axis": null},
  "y": {"field": "v", "type": "quantitative", "scale": {"domain": [0, 6.82], "nice": false, "zero": false}, "axis": null},
  "text": {"field": "label"}
 }}
]
}
]
}
